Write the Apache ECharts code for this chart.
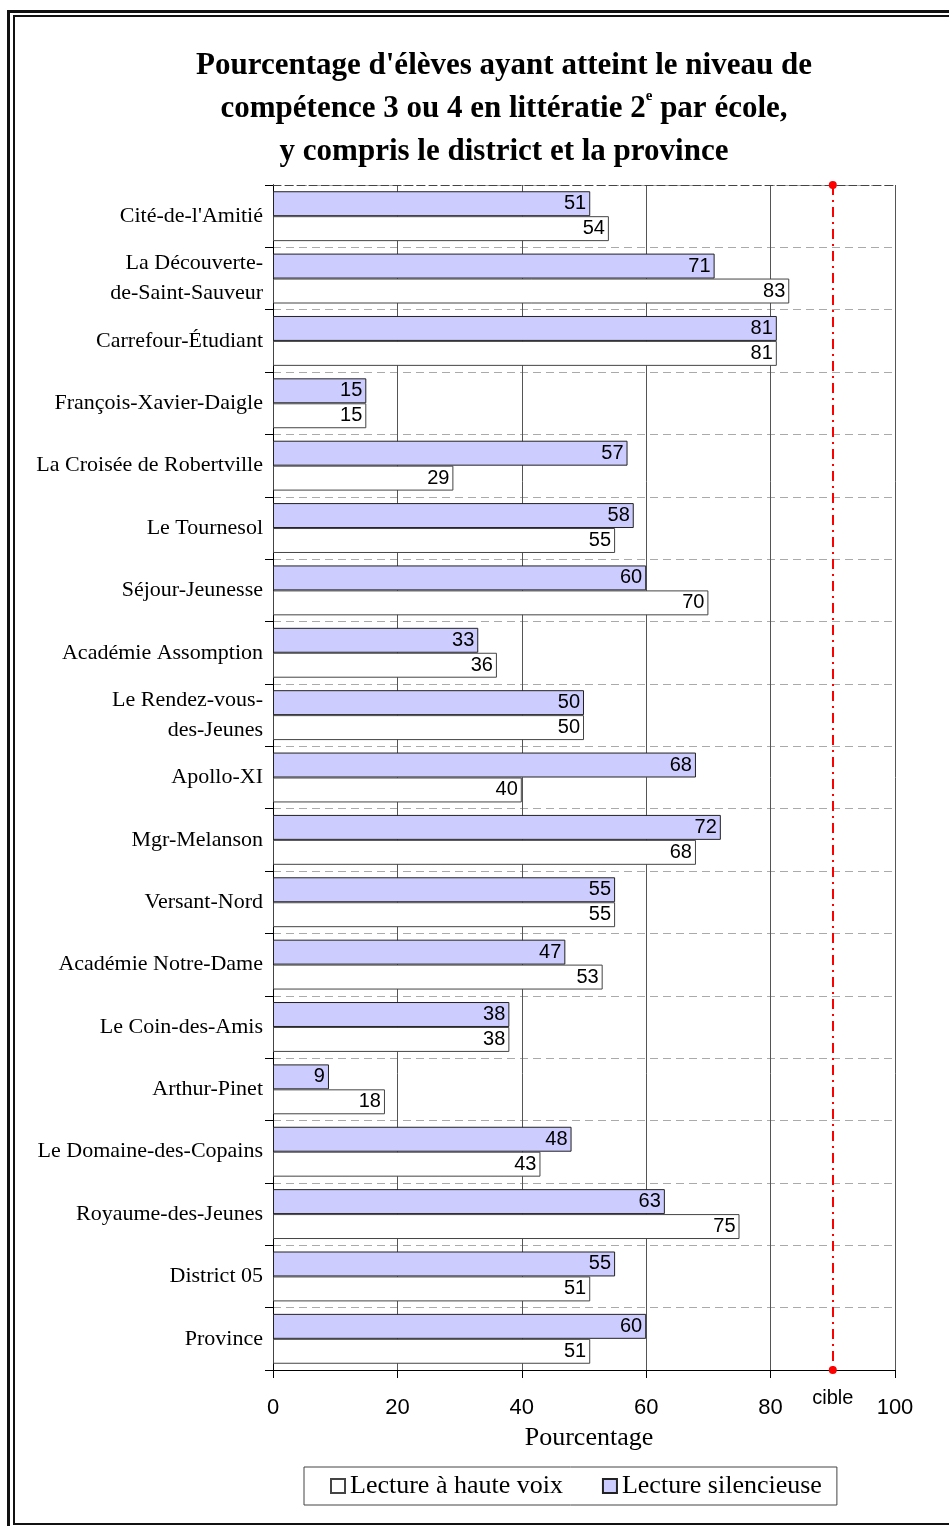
<!DOCTYPE html>
<html>
<head>
<meta charset="utf-8">
<script src="https://cdn.jsdelivr.net/npm/echarts@6/dist/echarts.min.js"></script>
<style>
html,body{margin:0;padding:0;background:#fff;}
#chart{width:949px;height:1526px;}
</style>
</head>
<body>
<div id="chart"></div>
<script>
const categories = [
  "Cité-de-l'Amitié",
  "La Découverte-\nde-Saint-Sauveur",
  "Carrefour-Étudiant",
  "François-Xavier-Daigle",
  "La Croisée de Robertville",
  "Le Tournesol",
  "Séjour-Jeunesse",
  "Académie Assomption",
  "Le Rendez-vous-\ndes-Jeunes",
  "Apollo-XI",
  "Mgr-Melanson",
  "Versant-Nord",
  "Académie Notre-Dame",
  "Le Coin-des-Amis",
  "Arthur-Pinet",
  "Le Domaine-des-Copains",
  "Royaume-des-Jeunes",
  "District 05",
  "Province"
];
const silentValues = [51, 71, 81, 15, 57, 58, 60, 33, 50, 68, 72, 55, 47, 38, 9, 48, 63, 55, 60];
const aloudValues  = [54, 83, 81, 15, 29, 55, 70, 36, 50, 40, 68, 55, 53, 38, 18, 43, 75, 51, 51];
const seriesNames = ["Lecture silencieuse", "Lecture à haute voix"];
const legendOrder = ["Lecture à haute voix", "Lecture silencieuse"];
const targetValue = 90;
const targetLabel = "cible";
const titleText = "Pourcentage d'élèves ayant atteint le niveau de\ncompétence 3 ou 4 en littératie 2{sup|e} par école,\ny compris le district et la province";
const axisName = "Pourcentage";

const serif = "'Liberation Serif','Times New Roman',serif";
const sans = "'Liberation Sans',Arial,sans-serif";

const chart = echarts.init(document.getElementById('chart'), null, {renderer: 'canvas'});
const labelStyle = {show: true, position: 'insideRight', color: '#000', fontFamily: sans, fontSize: 20, distance: 4};
chart.setOption({
  animation: false,
  backgroundColor: '#fff',
  title: {
    text: titleText,
    left: 499,
    top: 39,
    textAlign: 'center',
    textStyle: {
      fontFamily: serif, fontWeight: 'bold', fontSize: 31, color: '#000', lineHeight: 43,
      rich: {
        sup: {fontFamily: serif, fontWeight: 'bold', fontSize: 15, verticalAlign: 'top', lineHeight: 30, padding: [2,0,0,0]}
      }
    }
  },
  graphic: [
    {type: 'rect', shape: {x: 7, y: 10, width: 3, height: 1530}, style: {fill: '#111'}},
    {type: 'rect', shape: {x: 7, y: 10, width: 960, height: 3}, style: {fill: '#111'}},
    {type: 'rect', shape: {x: 13, y: 15, width: 2, height: 1510}, style: {fill: '#111'}},
    {type: 'rect', shape: {x: 13, y: 15, width: 960, height: 2}, style: {fill: '#111'}},
    {type: 'rect', shape: {x: 13, y: 1523, width: 960, height: 2}, style: {fill: '#111'}}
  ],
  legend: {
    data: legendOrder,
    left: 304,
    top: 1467,
    orient: 'horizontal',
    borderColor: '#444',
    borderWidth: 1,
    padding: [6, 15, 6, 26],
    itemGap: 39,
    itemWidth: 14,
    itemHeight: 14,
    icon: 'rect',
    textStyle: {fontFamily: serif, fontSize: 26, color: '#000'}
  },
  grid: {left: 273, right: 54, top: 185, bottom: 156, containLabel: false},
  xAxis: [{
    type: 'value', min: 0, max: 100, interval: 20,
    axisLine: {show: true, lineStyle: {color: '#000', width: 1}},
    axisTick: {show: true, length: 8, lineStyle: {color: '#000'}},
    axisLabel: {color: '#000', fontFamily: sans, fontSize: 22, margin: 27},
    splitLine: {show: true, lineStyle: {color: '#555', width: 1}},
    name: axisName, nameLocation: 'middle', nameGap: 55,
    nameTextStyle: {fontFamily: serif, fontSize: 26, color: '#000', padding: [0, 0, 0, 10]}
  }, {
    type: 'value', min: 0, max: 100, interval: 20, position: 'top',
    axisLine: {show: true, lineStyle: {color: '#444', width: 1, type: [8, 4]}},
    axisTick: {show: false}, axisLabel: {show: false}, splitLine: {show: false}
  }],
  yAxis: [{
    type: 'category', data: categories, inverse: true,
    axisLine: {show: true, lineStyle: {color: '#000', width: 1}},
    axisTick: {show: true, length: 8, lineStyle: {color: '#000'}},
    axisLabel: {color: '#000', fontFamily: serif, fontSize: 22, margin: 10, lineHeight: 30},
    splitLine: {show: true, lineStyle: {color: '#aaa', width: 1, type: [8, 5]}}
  }, {
    type: 'category', data: categories, inverse: true, position: 'right',
    axisLine: {show: true, lineStyle: {color: '#000', width: 1}},
    axisTick: {show: false}, axisLabel: {show: false}, splitLine: {show: false}
  }],
  series: [{
    name: seriesNames[0], type: 'bar', data: silentValues,
    barCategoryGap: '20%', barGap: '0%',
    itemStyle: {color: '#ccccff', borderColor: '#222', borderWidth: 1},
    label: labelStyle,
    markLine: {
      silent: true, animation: false,
      symbol: ['circle', 'circle'], symbolSize: 8,
      lineStyle: {color: '#ff0000', width: 2, type: [10, 5, 2, 5]},
      label: {show: true, formatter: targetLabel, position: 'end', color: '#000', fontFamily: sans, fontSize: 20, distance: 18},
      data: [{xAxis: targetValue}]
    }
  }, {
    name: seriesNames[1], type: 'bar', data: aloudValues,
    barCategoryGap: '20%', barGap: '0%',
    itemStyle: {color: '#ffffff', borderColor: '#444', borderWidth: 1},
    label: labelStyle
  }]
});
</script>
</body>
</html>
